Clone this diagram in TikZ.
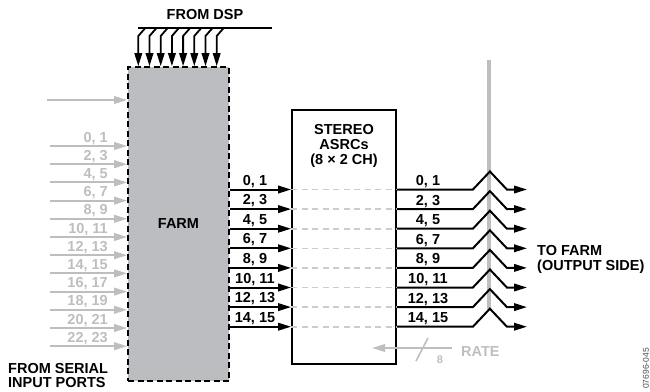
\documentclass[tikz,border=0pt]{standalone}
\usepackage{fontspec}
\setmainfont{Liberation Sans}
\usetikzlibrary{arrows.meta,calc}
\definecolor{farmgray}{RGB}{188,189,192}
\definecolor{lgray}{RGB}{190,190,190}
\definecolor{dgray}{RGB}{204,204,204}

\begin{document}
\begin{tikzpicture}[
  x=1pt,y=-1pt,
  font=\fontsize{14.5}{15}\selectfont\bfseries,
  >={Triangle[length=13pt,width=7.5pt]},
  farmbox/.style={draw,line width=1.6pt,dash pattern=on 6pt off 3.5pt,fill=farmgray,
                  minimum width=101pt,minimum height=314pt,inner sep=0pt},
  asrcbox/.style={draw,line width=1.8pt,minimum width=104pt,minimum height=254pt,inner sep=0pt},
  lab/.style={inner sep=0pt},
  glab/.style={lab,text=lgray},
  sig/.style={->,line width=2pt},
  gsig/.style={sig,draw=lgray},
  chan/.style={draw=dgray,line width=1.6pt,dash pattern=on 6pt off 4.5pt},
]
\useasboundingbox (0,0) rectangle (650,391);
% blocks
\node[farmbox] (farm) at (178.5,224) {FARM};
\node[asrcbox] (asrc) at (344,237) {};
\node[lab,align=center] (asrclab) at (344,146) {STEREO\\ASRCs\\(8 × 2 CH)};
% from DSP bus
\node[lab] (dsp) at (205,15) {FROM DSP};
\coordinate (busL) at (138,28);
\coordinate (busR) at (272,28);
\draw[line width=2.7pt] (busL) -- (busR);
\foreach \i in {0,...,7} {
  \pgfmathsetmacro\xx{138.3+11.2*\i}
  \coordinate (d\i) at (\xx,28);
  \draw[sig,line width=1.8pt] ([xshift=7pt]d\i) -- ++(-7,8) -- (d\i |- farm.north);
}
% serial inputs (gray)
\coordinate (aux) at (47,100);
\draw[gsig] (aux) -- (farm.west |- aux);
\foreach \i [evaluate=\i as \a using int(2*\i), evaluate=\i as \b using int(2*\i+1)] in {0,...,11} {
  \pgfmathsetmacro\yy{146+18.2*\i}
  \coordinate (in\i) at (50,\yy);
  \draw[gsig] (in\i) -- (farm.west |- in\i);
  \node[glab,anchor=base east] at (108,\yy-4) {\a, \b};
}
\node[lab,anchor=west,align=left,font=\fontsize{14.5}{14}\selectfont\bfseries] (serial) at (8,375.5) {FROM SERIAL\\INPUT PORTS};
% gray output bus
\coordinate (bartop) at (489,60);
\coordinate (barbot) at (489,310);
\draw[lgray,line width=4pt] (bartop) -- (barbot);
% farm -> asrc -> output side
\foreach \i [evaluate=\i as \a using int(2*\i), evaluate=\i as \b using int(2*\i+1)] in {0,...,7} {
  \pgfmathsetmacro\yy{189.5+19.6*\i}
  \coordinate (o\i) at (0,\yy);
  \coordinate (tip\i) at (527,\yy);
  \draw[sig] (farm.east |- o\i) -- (asrc.west |- o\i);
  \draw[chan] (asrc.west |- o\i) -- (asrc.east |- o\i);
  \draw[sig] (asrc.east |- o\i) -- ++(76,0) -- ++(17,-18) -- ++(17,18) -- (tip\i);
  \node[lab,anchor=base] at (255,\yy-4.5) {\a, \b};
  \node[lab,anchor=base] at (428,\yy-4) {\a, \b};
}
\node[lab,anchor=west,align=left] (tofarm) at (537,259.5) {TO FARM\\(OUTPUT SIDE)};
% rate
\node[glab,anchor=west] (rate) at (461,351.5) {RATE};
\coordinate (rateT) at (372,348);
\draw[gsig] ([xshift=-9pt,yshift=3.5pt]rate.west) -- (rateT);
\draw[lgray,line width=1.6pt] (416,361) -- (428,338);
\node[glab,font=\fontsize{11}{11}\selectfont\bfseries] (rwidth) at (440,360) {8};
% figure id
\node[lab,rotate=90,anchor=west,text=black!70,font=\fontsize{8.5}{8.5}\selectfont] (figid) at (646,389) {07696-045};
\end{tikzpicture}
\end{document}
